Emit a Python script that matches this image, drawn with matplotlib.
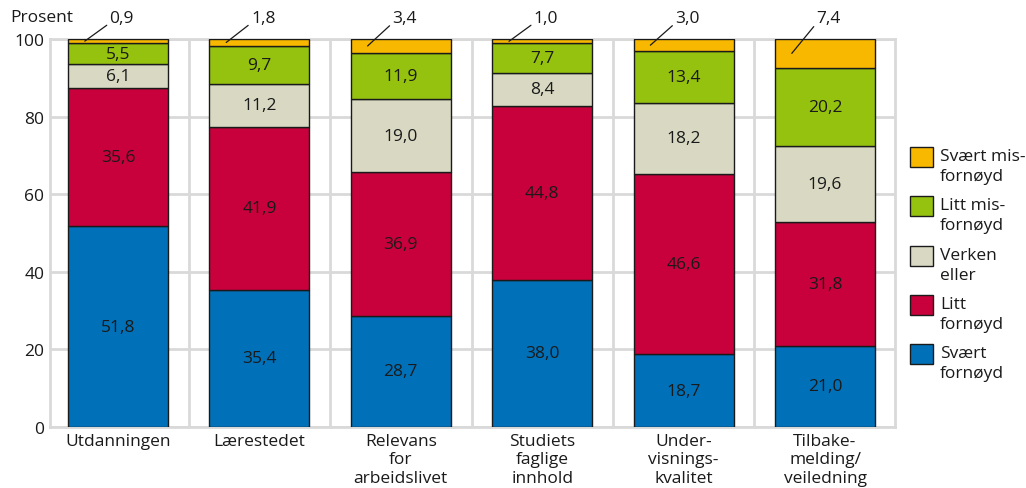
import matplotlib
matplotlib.use("Agg")
import matplotlib.pyplot as plt
from matplotlib.patches import Rectangle
import numpy as np

plt.rcParams['font.family'] = ['Open Sans', 'DejaVu Sans']

categories = ["Utdanningen", "Lærestedet", "Relevans\nfor\narbeidslivet",
              "Studiets\nfaglige\ninnhold", "Under-\nvisnings-\nkvalitet",
              "Tilbake-\nmelding/\nveiledning"]
svaert_fornoyd = [51.8, 35.4, 28.7, 38.0, 18.7, 21.0]
litt_fornoyd = [35.6, 41.9, 36.9, 44.8, 46.6, 31.8]
verken_eller = [6.1, 11.2, 19.0, 8.4, 18.2, 19.6]
litt_misfornoyd = [5.5, 9.7, 11.9, 7.7, 13.4, 20.2]
svaert_misfornoyd = [0.9, 1.8, 3.4, 1.0, 3.0, 7.4]

series = [svaert_fornoyd, litt_fornoyd, verken_eller, litt_misfornoyd, svaert_misfornoyd]
series_labels = ["Svært\nfornøyd", "Litt\nfornøyd", "Verken\neller",
                 "Litt mis-\nfornøyd", "Svært mis-\nfornøyd"]
colors = ["#0070b8", "#c8003c", "#d9d9c3", "#95c10f", "#f9b800"]
yticks = [0, 20, 40, 60, 80, 100]

FS = 12.5
W, H = 1026, 489
fig = plt.figure(figsize=(W / 100, H / 100), dpi=100)
ax = fig.add_axes([50/W, 61/H, 845/W, 388/H])

x = np.arange(len(categories))
width = 0.707
bottom = np.zeros(len(categories))
grid_c = "#d9d9d9"
ink = "#1a1a1a"

for y in yticks:
    ax.axhline(y, color=grid_c, lw=2, zorder=0)
for s in np.arange(0.5, len(categories) - 0.5, 1):
    ax.axvline(s, color=grid_c, lw=2, zorder=0)

for vals, col in zip(series, colors):
    vals = np.array(vals)
    ax.bar(x, vals, width, bottom=bottom, color=col, edgecolor=ink, lw=1.0, zorder=2)
    for i, v in enumerate(vals):
        if col != colors[-1]:
            ax.text(x[i], bottom[i] + v / 2, f"{v:.1f}".replace(".", ","),
                    ha="center", va="center", fontsize=FS, color=ink, zorder=3)
    bottom += vals

# top segment labels with leader lines
for i, v in enumerate(svaert_misfornoyd):
    y0 = bottom[i] - v / 2
    ax.annotate(f"{v:.1f}".replace(".", ","), xy=(x[i] - 0.235, y0),
                xytext=(x[i] - 0.06, 105.3), ha="left", va="center",
                fontsize=FS, color=ink, annotation_clip=False,
                arrowprops=dict(arrowstyle="-", color=ink, lw=0.9,
                                shrinkA=0, shrinkB=0, relpos=(0, 0.2)))

ax.set_xlim(-0.481, len(categories) - 0.505)
ax.set_ylim(0, 100)
ax.set_yticks(yticks)
ax.set_yticklabels([str(t) for t in yticks], fontsize=FS, color=ink)
ax.set_xticks(x)
ax.set_xticklabels(categories, fontsize=FS, linespacing=1.22, color=ink)
ax.tick_params(length=0, pad=4)
for sp in ax.spines.values():
    sp.set_color(grid_c)
    sp.set_linewidth(2)
    sp.set_zorder(0)

fig.text(10/W, 1 - 18/H, "Prosent", fontsize=FS, va="center", ha="left", color=ink)

# legend (drawn manually to match spacing)
for k, (lab, col) in enumerate(zip(series_labels[::-1], colors[::-1])):
    top = 148 + 49.3 * k
    fig.add_artist(Rectangle((910/W, 1 - (top + 20)/H), 23/W, 20/H,
                             transform=fig.transFigure, facecolor=col,
                             edgecolor=ink, lw=1.0))
    fig.text(940/W, 1 - (top + 1)/H, lab, fontsize=FS, va="top", ha="left",
             linespacing=1.35, color=ink)

fig.savefig("out.png", dpi=100)
